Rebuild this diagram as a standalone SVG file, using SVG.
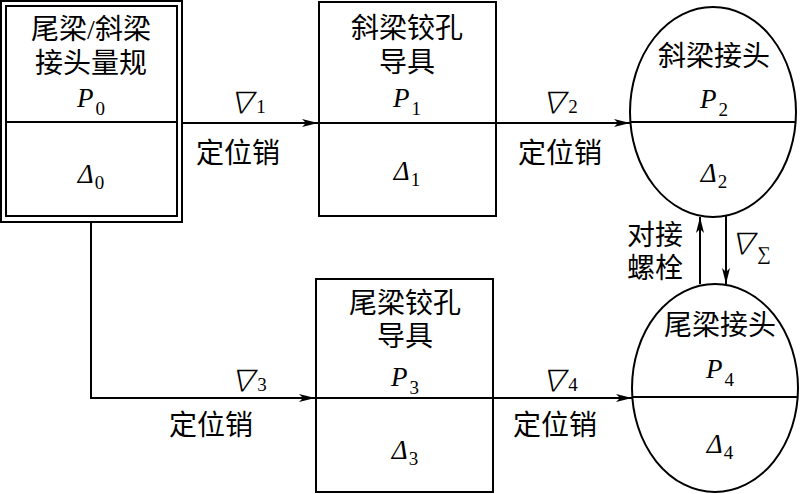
<svg xmlns="http://www.w3.org/2000/svg" width="800" height="494" viewBox="0 0 800 494">
<style>
.ln{fill:none;stroke:#000;stroke-width:2}
.cn{font-family:"Liberation Serif","Noto Sans CJK SC",serif;font-size:28px;fill:#000;text-anchor:middle}
.sym{font-family:"Liberation Serif","Times New Roman",serif;font-size:27px;font-style:italic;fill:#000;text-anchor:middle}
.nab{font-family:"Noto Sans CJK SC",sans-serif;font-size:30px;font-style:italic;font-weight:300;fill:#000;text-anchor:middle}
.sub{font-family:"Liberation Serif",serif;font-style:normal;font-weight:normal;font-size:19px}
</style>
<defs>
<marker id="ar" viewBox="0 0 16 8" refX="16" refY="4" markerWidth="16" markerHeight="8" markerUnits="userSpaceOnUse" orient="auto">
<path d="M0,0 L16,4 L0,8 L4,4 Z" fill="#000"/>
</marker>
</defs>
<rect width="800" height="494" fill="#fff"/>
<g id="connectors">
<line class="ln" x1="182" y1="123" x2="318" y2="123" marker-end="url(#ar)"/>
<line class="ln" x1="496" y1="123" x2="630" y2="123" marker-end="url(#ar)"/>
<polyline class="ln" points="91,222 91,398 315,398" marker-end="url(#ar)"/>
<line class="ln" x1="493" y1="398" x2="632" y2="398" marker-end="url(#ar)"/>
<line class="ln" x1="700" y1="284" x2="700" y2="217" marker-end="url(#ar)"/>
<line class="ln" x1="726" y1="216" x2="726" y2="284" marker-end="url(#ar)"/>
<text class="nab" x="246" y="113">∇<tspan class="sub">1</tspan></text>
<text class="cn" x="238" y="163">定位销</text>
<text class="nab" x="558" y="113">∇<tspan class="sub">2</tspan></text>
<text class="cn" x="560" y="163">定位销</text>
<text class="nab" x="247" y="391">∇<tspan class="sub">3</tspan></text>
<text class="cn" x="211" y="435">定位销</text>
<text class="nab" x="558" y="391">∇<tspan class="sub">4</tspan></text>
<text class="cn" x="555" y="435">定位销</text>
<text class="cn" x="655" y="245">对接</text>
<text class="cn" x="655" y="278">螺栓</text>
<text class="nab" x="749" y="254">∇<tspan class="sub" dy="6">∑</tspan></text>
</g>
<g id="node0">
<rect class="ln" x="1" y="1" width="181" height="221"/>
<rect class="ln" x="6" y="6" width="171" height="210"/>
<line class="ln" x1="6" y1="122" x2="177" y2="122"/>
<text class="cn" x="91" y="39">尾梁/斜梁</text>
<text class="cn" x="91" y="73">接头量规</text>
<text class="sym" x="91" y="107">P<tspan class="sub" dy="8" dx="2">0</tspan></text>
<text class="sym" x="91" y="183">Δ<tspan class="sub" dy="6" dx="1">0</tspan></text>
</g>
<g id="node1">
<rect class="ln" x="319" y="2" width="177" height="214"/>
<line class="ln" x1="319" y1="123" x2="496" y2="123"/>
<text class="cn" x="407" y="38">斜梁铰孔</text>
<text class="cn" x="407" y="72">导具</text>
<text class="sym" x="407" y="107">P<tspan class="sub" dy="8" dx="2">1</tspan></text>
<text class="sym" x="407" y="180">Δ<tspan class="sub" dy="6" dx="1">1</tspan></text>
</g>
<g id="node2">
<ellipse class="ln" cx="713" cy="112" rx="83" ry="105"/>
<line class="ln" x1="630" y1="122" x2="796" y2="122"/>
<text class="cn" x="714" y="66">斜梁接头</text>
<text class="sym" x="714" y="108">P<tspan class="sub" dy="8" dx="2">2</tspan></text>
<text class="sym" x="714" y="182">Δ<tspan class="sub" dy="6" dx="1">2</tspan></text>
</g>
<g id="node3">
<rect class="ln" x="316" y="279" width="177" height="213"/>
<line class="ln" x1="316" y1="398" x2="493" y2="398"/>
<text class="cn" x="405" y="313">尾梁铰孔</text>
<text class="cn" x="405" y="346">导具</text>
<text class="sym" x="405" y="386">P<tspan class="sub" dy="8" dx="2">3</tspan></text>
<text class="sym" x="405" y="459">Δ<tspan class="sub" dy="6" dx="1">3</tspan></text>
</g>
<g id="node4">
<ellipse class="ln" cx="715" cy="388" rx="83" ry="104"/>
<line class="ln" x1="632" y1="397" x2="798" y2="397"/>
<text class="cn" x="720" y="335">尾梁接头</text>
<text class="sym" x="720" y="378">P<tspan class="sub" dy="8" dx="2">4</tspan></text>
<text class="sym" x="720" y="453">Δ<tspan class="sub" dy="6" dx="1">4</tspan></text>
</g>
</svg>
